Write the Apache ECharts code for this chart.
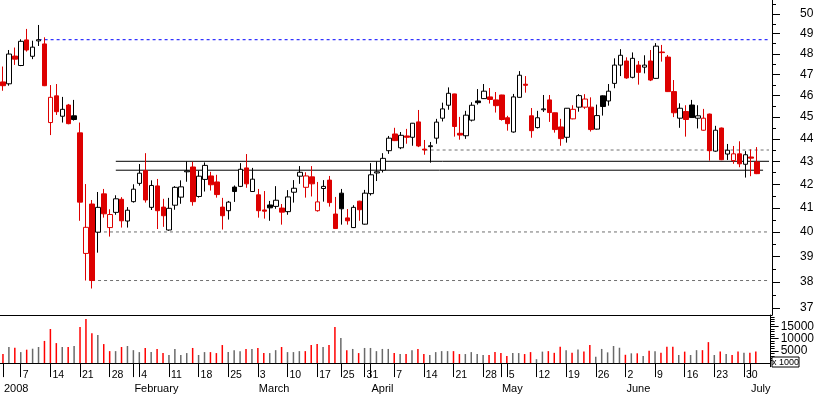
<!DOCTYPE html>
<html><head><meta charset="utf-8">
<script src="https://cdn.jsdelivr.net/npm/echarts@6/dist/echarts.min.js"></script>
<style>html,body{margin:0;padding:0;background:#fff}#c{width:817px;height:395px}</style>
</head><body><div id="c"></div>
<script>
const dates = [
'2008-01-02','2008-01-03','2008-01-04','2008-01-07','2008-01-08','2008-01-09','2008-01-10','2008-01-11','2008-01-14','2008-01-15','2008-01-16','2008-01-17','2008-01-18','2008-01-21','2008-01-22','2008-01-23','2008-01-24','2008-01-25','2008-01-28','2008-01-29','2008-01-30','2008-01-31',
'2008-02-01','2008-02-04','2008-02-05','2008-02-06','2008-02-07','2008-02-08','2008-02-11','2008-02-12','2008-02-13','2008-02-14','2008-02-15','2008-02-18','2008-02-19','2008-02-20','2008-02-21','2008-02-22','2008-02-25','2008-02-26','2008-02-27','2008-02-28','2008-02-29',
'2008-03-03','2008-03-04','2008-03-05','2008-03-06','2008-03-07','2008-03-10','2008-03-11','2008-03-12','2008-03-13','2008-03-14','2008-03-17','2008-03-18','2008-03-19','2008-03-20','2008-03-25','2008-03-26','2008-03-27','2008-03-28','2008-03-31',
'2008-04-01','2008-04-02','2008-04-03','2008-04-04','2008-04-07','2008-04-08','2008-04-09','2008-04-10','2008-04-11','2008-04-14','2008-04-15','2008-04-16','2008-04-17','2008-04-18','2008-04-21','2008-04-22','2008-04-23','2008-04-24','2008-04-25','2008-04-28','2008-04-29','2008-04-30',
'2008-05-02','2008-05-05','2008-05-06','2008-05-07','2008-05-08','2008-05-09','2008-05-12','2008-05-13','2008-05-14','2008-05-15','2008-05-16','2008-05-19','2008-05-20','2008-05-21','2008-05-22','2008-05-23','2008-05-26','2008-05-27','2008-05-28','2008-05-29','2008-05-30',
'2008-06-02','2008-06-03','2008-06-04','2008-06-05','2008-06-06','2008-06-09','2008-06-10','2008-06-11','2008-06-12','2008-06-13','2008-06-16','2008-06-17','2008-06-18','2008-06-19','2008-06-20','2008-06-23','2008-06-24','2008-06-25','2008-06-26','2008-06-27','2008-06-30',
'2008-07-01','2008-07-02'];

const opens = [46.64,46.55,47.89,47.43,48.69,47.88,48.64,48.49,44.74,45.98,45.03,45.55,45.05,44.27,39.13,41.16,39.99,41.59,40.18,40.81,41.36,40.45,
41.26,42.04,42.59,41.02,41.93,41.03,40.08,41.11,41.45,42.54,42.75,41.48,42.21,42.36,42.10,41.03,40.88,41.88,41.91,42.71,41.69,
41.55,40.91,41.12,41.06,40.99,40.84,41.66,42.35,41.87,42.32,40.88,41.82,42.18,40.74,41.62,40.58,40.18,41.28,40.32,
41.60,42.49,42.61,43.47,44.22,43.60,44.13,44.07,44.77,43.54,43.65,44.03,44.94,45.54,46.07,44.25,44.14,44.85,45.74,45.85,45.93,45.79,
46.02,44.96,44.31,45.91,46.53,45.05,44.51,45.33,45.79,45.19,44.54,44.07,44.91,45.45,45.45,45.45,44.44,45.98,45.74,46.57,47.45,
47.65,46.86,47.45,47.35,47.65,46.81,48.09,47.84,46.18,44.94,45.25,45.55,44.94,44.39,45.13,43.45,44.49,43.32,43.03,43.33,42.87,
43.19,42.97];
const highs = [47.38,48.19,48.31,48.72,49.24,48.65,49.44,48.82,46.49,46.54,45.93,45.60,45.79,44.74,42.01,41.33,41.67,41.80,40.94,41.53,41.45,41.03,
42.00,42.88,43.36,42.17,42.23,41.38,41.42,41.92,42.17,43.00,42.98,42.59,42.95,42.54,42.41,41.42,41.29,41.95,42.92,43.32,42.71,
41.80,41.71,41.29,41.92,41.16,41.75,42.18,42.79,42.52,42.79,42.10,42.18,42.36,41.46,41.80,40.95,41.11,41.30,41.76,
42.92,43.00,43.36,44.13,44.50,44.31,44.45,44.72,45.32,43.95,43.86,44.91,45.66,46.38,46.08,45.00,45.28,45.68,46.30,46.54,46.35,46.16,
46.03,45.05,46.07,47.16,46.92,45.41,45.28,46.02,46.02,45.20,44.91,45.41,45.54,46.06,46.06,45.91,45.57,46.00,46.54,47.78,48.23,
47.83,48.07,47.65,47.93,48.19,48.53,48.44,47.94,46.73,45.63,45.54,45.79,45.54,45.37,45.15,44.59,44.51,43.77,43.68,43.89,43.45,
43.53,43.63];
const lows = [46.22,46.46,47.46,47.40,48.11,47.74,48.39,46.44,44.17,45.09,44.74,44.66,44.83,40.46,38.06,37.75,39.16,40.59,39.81,40.71,40.18,40.18,
41.22,41.94,41.22,40.91,40.12,40.21,40.05,40.92,41.17,42.11,41.09,41.43,41.69,41.73,41.43,40.10,40.51,41.25,41.88,41.85,41.67,
40.59,40.55,40.46,40.96,40.30,40.71,41.22,42.02,41.43,41.48,40.84,41.26,41.05,40.12,40.30,40.30,40.16,40.46,40.30,
41.52,42.14,42.51,43.33,43.90,43.54,43.78,43.69,43.63,43.29,42.94,43.78,44.79,45.33,44.10,43.96,44.00,44.79,45.57,45.83,45.62,45.20,
44.83,44.37,44.28,45.90,46.13,44.05,44.47,45.23,44.77,44.28,43.69,43.83,44.89,45.24,45.37,44.33,44.42,45.06,45.52,46.34,46.92,
46.79,46.81,46.51,47.05,46.68,46.79,47.62,46.16,44.99,44.50,44.10,44.95,44.47,44.37,43.03,43.42,43.05,43.06,42.89,42.74,42.29,
42.35,42.44];
const closes = [46.46,47.99,47.74,48.62,48.19,48.33,48.70,46.46,45.91,45.24,45.35,44.69,44.88,41.24,40.19,38.06,41.02,40.75,40.72,41.38,40.46,40.90,
41.79,42.48,41.33,41.95,40.88,40.67,40.98,41.87,41.89,42.58,41.26,42.35,42.82,41.98,41.56,40.67,41.24,41.69,42.65,42.02,42.22,
40.88,40.86,41.00,41.32,40.82,41.46,41.83,42.52,42.36,42.02,41.25,41.91,41.22,40.14,40.96,40.46,41.02,40.92,41.62,
42.41,42.54,43.13,44.03,43.92,44.16,44.07,44.71,43.68,43.50,43.69,44.76,45.37,46.10,44.56,44.17,45.08,45.54,45.66,46.20,45.81,45.52,
44.88,44.69,45.93,46.96,46.48,44.37,44.96,45.37,45.20,44.42,44.01,45.40,45.35,45.99,45.83,44.42,45.06,45.48,46.20,47.45,47.93,
46.83,47.78,47.10,47.45,46.73,48.38,48.06,46.18,45.19,45.40,44.88,44.97,45.05,44.94,43.47,44.39,43.07,43.49,43.33,42.89,43.29,
43.14,42.46];
// volume, in thousands (axis reads "x 1000")
const volumes = [3700,6600,6300,4500,5500,5900,6600,9100,14000,8200,6600,6600,7000,14800,18100,12300,11500,7800,4900,4900,6600,7000,
5300,4500,6200,4500,5800,4100,3300,5800,3300,4100,6200,3300,4500,4500,4100,7400,4500,5300,4900,5800,5800,
6200,4100,4100,5300,6600,4500,4500,4900,4900,7400,7800,6600,7400,14800,10300,5300,5800,4100,6200,
6200,4900,5800,5800,4100,3700,3700,5300,5800,3700,3300,4500,4900,4900,4900,3700,3700,4500,3700,3300,3300,4500,
4100,2900,4100,4100,3700,4500,1600,4700,4900,4200,6700,5300,4200,5600,4700,7400,2600,5800,4400,7000,6300,
3400,4000,4000,2900,5100,4900,4200,6700,6700,3300,4700,3300,5300,5300,8600,3300,4700,3700,3300,4700,4200,
4200,4700];

const priceTicks = [37,38,39,40,41,42,43,44,45,46,47,48,49,50];
const priceMinorTicks = [37.5,38.5,39.5,40.5,41.5,42.5,43.5,44.5,45.5,46.5,47.5,48.5,49.5,50.5];
const volumeTicks = [5000,10000,15000];
const volumeMinorTicks = [1000,2000,3000,4000,6000,7000,8000,9000,11000,12000,13000,14000,16000,17000,18000,19000];
const monthNames = ['2008','February','March','April','May','June','July'];

// horizontal levels drawn on the chart
const dashedLevels = [48.70, 43.50, 40.00, 38.06];
const dashedStarts = ['2008-01-10','2008-04-14','2008-01-24','2008-01-23'];
const solidLevels = [43.00, 42.61];
const solidStarts = ['2008-01-29','2008-01-29'];

const RED = '#dd0000', VRED = '#ff0000', VGRAY = '#6a6a6a', FONT = 'Liberation Sans, Arial, sans-serif';
const LAST = dates.length + 1;

function isDown(i){ return i === 0 ? true : closes[i] < closes[i-1]; }
function dayOf(i){ return new Date(dates[i] + 'T00:00:00Z').getUTCDay(); }
function isWeekStart(i){ return i > 0 && i < dates.length && dayOf(i) < dayOf(i-1); }
function isMonthStart(i){ return i < dates.length && (i === 0 || dates[i].slice(5,7) !== dates[i-1].slice(5,7)); }

const candleData = dates.map((d,i)=>{
  const col = isDown(i) ? RED : '#000';
  const fill = closes[i] >= opens[i] ? '#fff' : col;
  return {value:[opens[i], closes[i], lows[i], highs[i]],
    itemStyle:{color:fill, color0:fill, borderColor:col, borderColor0:col, borderWidth:1}};
});
const volData = volumes.map((v,i)=>({value:v, itemStyle:{color: isDown(i) ? VRED : VGRAY}}));

const levelSeries = [];
dashedLevels.forEach((v,i)=>{
  levelSeries.push({type:'line', xAxisIndex:0, yAxisIndex:0, silent:true, showSymbol:false, symbol:'none', z:1,
    data:[[dashedStarts[i], v],[LAST, v]],
    lineStyle:{color: i===0 ? '#0000ff' : '#707070', type:[3,3], width:1}});
});
solidLevels.forEach((v,i)=>{
  levelSeries.push({type:'line', xAxisIndex:0, yAxisIndex:0, silent:true, showSymbol:false, symbol:'none', z:1,
    data:[[solidStarts[i], v],[i===0 ? LAST : LAST-1, v]],
    lineStyle:{color:'#000', type:'solid', width:1}});
});

const chart = echarts.init(document.getElementById('c'), null, {renderer:'canvas'});
chart.setOption({
  animation:false,
  backgroundColor:'#fff',
  textStyle:{fontFamily:FONT},
  grid:[
    {left:0, right:45, top:0, height:315},
    {left:0, right:45, top:315, height:51.7}
  ],
  xAxis:[
    {type:'category', gridIndex:0, data:dates, max:LAST, boundaryGap:true,
     axisLine:{show:true, lineStyle:{color:'#000', width:1}}, axisTick:{show:false}, axisLabel:{show:false}, splitLine:{show:false}},
    {type:'category', gridIndex:1, data:dates, max:LAST, boundaryGap:true, position:'bottom',
     axisLine:{show:true, lineStyle:{color:'#000', width:1}},
     axisTick:{show:true, alignWithLabel:true, length:14, lineStyle:{color:'#000'},
       interval:(i)=> i===0 || isWeekStart(i) || isMonthStart(i)},
     axisLabel:{show:true, interval:(i)=> isWeekStart(i), align:'left', margin:3, padding:[0,0,0,2],
       fontSize:10.5, fontFamily:FONT, color:'#000', formatter:(v)=> v ? String(parseInt(v.slice(8),10)) : ''},
     splitLine:{show:false}},
    {type:'category', gridIndex:1, data:dates, max:LAST, boundaryGap:true, position:'bottom', offset:14,
     axisLine:{show:true, lineStyle:{color:'#000', width:1}},
     axisTick:{show:true, alignWithLabel:true, length:14, lineStyle:{color:'#000'}, interval:(i)=> isMonthStart(i)},
     axisLabel:{show:true, interval:(i)=> isMonthStart(i), align:'left', margin:3, padding:[0,0,0,1],
       fontSize:11, fontFamily:FONT, color:'#000', formatter:(v)=> v ? monthNames[parseInt(v.slice(5,7),10)-1] : ''},
     splitLine:{show:false}}
  ],
  yAxis:[
    {type:'log', logBase:10, gridIndex:0, position:'right', min:36.74, max:50.72,
     axisLine:{show:true, lineStyle:{color:'#000'}},
     axisTick:{show:true, length:8, lineStyle:{color:'#000'}, customValues:priceTicks},
     axisLabel:{show:true, customValues:priceTicks, margin:28, fontSize:12, fontFamily:FONT, color:'#000',
       formatter:(v)=> String(Math.round(v))},
     splitLine:{show:false}, minorTick:{show:false}},
    {type:'log', logBase:10, gridIndex:0, position:'right', min:36.74, max:50.72,
     axisLine:{show:false}, axisTick:{show:true, length:4, lineStyle:{color:'#000'}, customValues:priceMinorTicks},
     axisLabel:{show:false}, splitLine:{show:false}},
    {type:'value', gridIndex:1, position:'right', min:-1500, max:19750,
     axisLine:{show:true, lineStyle:{color:'#000'}},
     axisTick:{show:true, length:8, lineStyle:{color:'#000'}, customValues:volumeTicks},
     axisLabel:{show:true, customValues:volumeTicks, margin:10, fontSize:12, fontFamily:FONT, color:'#000',
       formatter:(v)=> String(Math.round(v))},
     splitLine:{show:false}},
    {type:'value', gridIndex:1, position:'right', min:-1500, max:19750,
     axisLine:{show:false}, axisTick:{show:true, length:4, lineStyle:{color:'#000'}, customValues:volumeMinorTicks},
     axisLabel:{show:false}, splitLine:{show:false}}
  ],
  series:[
    ...levelSeries,
    {type:'candlestick', xAxisIndex:0, yAxisIndex:0, data:candleData, barWidth:5, z:3},
    {type:'bar', xAxisIndex:1, yAxisIndex:2, data:volData, barWidth:1.5}
  ],
  graphic:[
    {type:'rect', shape:{x:772, y:357, width:27, height:10}, style:{fill:'#fff', stroke:'#000', lineWidth:1}, z:100},
    {type:'text', x:785.5, y:362.3, style:{text:'x 1000', fontSize:9, fontFamily:FONT, fill:'#000', align:'center', verticalAlign:'middle'}, z:101}
  ]
});
</script></body></html>
